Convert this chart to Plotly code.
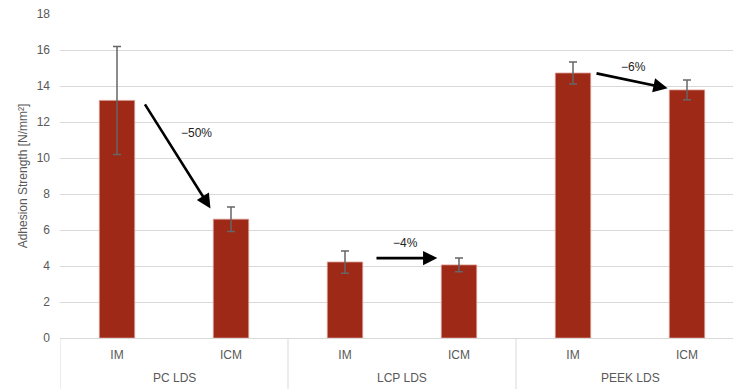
import plotly.graph_objects as go

groups = ["PC LDS", "LCP LDS", "PEEK LDS"]
processes = ["IM", "ICM", "IM", "ICM", "IM", "ICM"]
strength = [13.2, 6.6, 4.22, 4.06, 14.72, 13.78]
err = [3.0, 0.68, 0.62, 0.38, 0.61, 0.55]
changes = ["\u221250%", "\u22124%", "\u22126%"]
y_ticks = [0, 2, 4, 6, 8, 10, 12, 14, 16, 18]

xpos = list(range(len(processes)))
fig = go.Figure()
fig.add_trace(go.Bar(
    x=xpos, y=strength, width=0.31,
    marker=dict(color="#9E2916", line=dict(color="#D8978C", width=0.8)),
    error_y=dict(type="data", array=err, visible=True, color="#666666",
                 thickness=1.5, width=4),
    showlegend=False,
))

# arrows (tail -> head) in data coords
arrows = [
    ((0.237, 13.06), (0.82, 7.2)),
    ((2.263, 4.44), (2.81, 4.44)),
    ((4.193, 14.72), (4.83, 13.88)),
]
label_pos = [(0.70, 11.4), (2.53, 5.3), (4.535, 15.08)]
for (t, h), txt, lp in zip(arrows, changes, label_pos):
    fig.add_annotation(x=h[0], y=h[1], ax=t[0], ay=t[1], xref="x", yref="y",
                       axref="x", ayref="y", showarrow=True, arrowhead=2,
                       arrowsize=1.1, arrowwidth=2.6, arrowcolor="black", text="")
    fig.add_annotation(x=lp[0], y=lp[1], xref="x", yref="y", text=txt,
                       showarrow=False, font=dict(size=12, color="#222222"))

# group labels & dividers
for i, g in enumerate(groups):
    fig.add_annotation(x=2 * i + 0.5, y=0, xref="x", yref="paper", text=g,
                       yanchor="middle", yshift=-40,
                       showarrow=False, font=dict(size=12, color="#595959"))
for b in [-0.5, 1.5, 3.5, 5.5]:
    fig.add_shape(type="line", xref="x", yref="paper", x0=b, x1=b, y0=0, y1=-0.2,
                  line=dict(color="#D9D9D9", width=1))

fig.update_layout(
    width=733, height=389,
    margin=dict(l=60, r=0, t=14, b=51),
    paper_bgcolor="white", plot_bgcolor="white",
    font=dict(family="Liberation Sans, Arial, sans-serif", color="#595959", size=12),
    xaxis=dict(range=[-0.5, 5.5 - 11 / 114], tickmode="array", tickvals=xpos,
               ticktext=processes, showgrid=False, zeroline=False,
               showline=False, ticks="", ticklabelstandoff=8,
               tickfont=dict(size=12, color="#595959")),
    yaxis=dict(range=[0, 18], tickvals=y_ticks, showgrid=True, gridcolor="#D9D9D9",
               gridwidth=1, zeroline=True, zerolinecolor="#D9D9D9", zerolinewidth=1,
               tickfont=dict(size=12, color="#595959"), ticks="", ticklen=0,
               ticklabelstandoff=9,
               title=dict(text="Adhesion Strength [N/mm\u00b2]", font=dict(size=12, color="#595959"), standoff=6)),
)
fig.write_html("out.html")
